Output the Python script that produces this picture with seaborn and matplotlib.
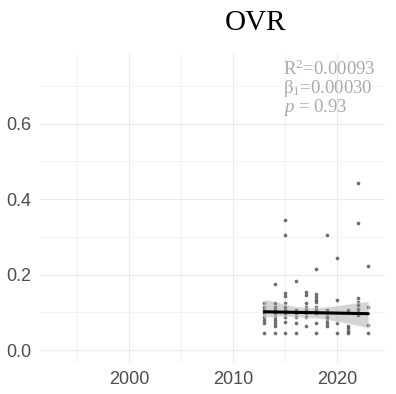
import matplotlib
matplotlib.use("Agg")
import matplotlib.pyplot as plt
import seaborn as sns
import pandas as pd
from matplotlib.ticker import FixedLocator

vals_2013 = [0.124, 0.115, 0.106, 0.097, 0.088, 0.079, 0.071, 0.046]
vals_2014 = [0.174, 0.124, 0.115, 0.106, 0.097, 0.088, 0.079, 0.071, 0.064, 0.046]
vals_2015 = [0.344, 0.304, 0.152, 0.143, 0.124, 0.115, 0.106, 0.097, 0.088, 0.075, 0.046]
vals_2016 = [0.184, 0.106, 0.097, 0.088, 0.072, 0.046]
vals_2017 = [0.154, 0.146, 0.124, 0.115, 0.106, 0.097, 0.088, 0.065]
vals_2018 = [0.214, 0.148, 0.141, 0.134, 0.128, 0.115, 0.106, 0.097, 0.073, 0.046]
vals_2019 = [0.304, 0.106, 0.097, 0.088, 0.079, 0.071, 0.065]
vals_2020 = [0.244, 0.134, 0.073, 0.046]
vals_2021 = [0.106, 0.065, 0.058, 0.051, 0.044]
vals_2022 = [0.444, 0.336, 0.137, 0.128, 0.119, 0.110, 0.102, 0.093]
vals_2023 = [0.223, 0.115, 0.067, 0.046]

years = list(range(2013, 2024))
value_lists = [vals_2013, vals_2014, vals_2015, vals_2016, vals_2017, vals_2018,
               vals_2019, vals_2020, vals_2021, vals_2022, vals_2023]

title = "OVR"
stats_lines = [r"R$^2$=0.00093", r"β$_1$=0.00030", r"$p$ = 0.93"]
x_ticks = [2000, 2010, 2020]
x_minor = [1995, 2005, 2015]
y_ticks = [0.0, 0.2, 0.4, 0.6]
y_minor = [0.1, 0.3, 0.5, 0.7]

rows = []
for yr, vals in zip(years, value_lists):
    for v in vals:
        rows.append({"year": yr, "value": v})
df = pd.DataFrame(rows)
# the trend is fitted on one summary value per year
yearly = df.groupby("year", as_index=False)["value"].median()

sns.set_theme(style="white")
plt.rcParams["mathtext.fontset"] = "custom"
plt.rcParams["mathtext.rm"] = "Liberation Serif"
plt.rcParams["mathtext.it"] = "Liberation Serif:italic"

fig = plt.figure(figsize=(3.96, 3.94), dpi=100)
ax = fig.add_axes([0.101, 0.079, 0.871, 0.786])

sns.scatterplot(data=df, x="year", y="value", ax=ax, s=7, color="#555555",
                linewidth=0, alpha=0.85, zorder=2)
sns.regplot(data=yearly, x="year", y="value", ax=ax, scatter=False, ci=99, seed=1,
            line_kws=dict(color="black", lw=2.2, zorder=4))
for coll in ax.collections[1:]:
    coll.set_facecolor("#999999")
    coll.set_alpha(0.42)
    coll.set_zorder(3)

ax.set_xlim(1991.4, 2024.6)
ax.set_ylim(-0.034, 0.787)
ax.xaxis.set_major_locator(FixedLocator(x_ticks))
ax.xaxis.set_minor_locator(FixedLocator(x_minor))
ax.yaxis.set_major_locator(FixedLocator(y_ticks))
ax.yaxis.set_minor_locator(FixedLocator(y_minor))
ax.set_xticklabels([str(t) for t in x_ticks])
ax.set_yticklabels([f"{t:.1f}" for t in y_ticks])
ax.grid(True, which="major", color="#ebebeb", lw=0.8)
ax.grid(True, which="minor", color="#f3f3f3", lw=0.6)
ax.set_axisbelow(True)
for s in ax.spines.values():
    s.set_visible(False)
ax.tick_params(axis="both", which="both", length=0, labelsize=13, colors="#4d4d4d", pad=6)
for lab in ax.get_xticklabels() + ax.get_yticklabels():
    lab.set_family("Liberation Sans")
ax.set_xlabel("")
ax.set_ylabel("")

fig.text(255 / 396, 1 - 22.5 / 394, title, ha="center", va="center", fontsize=21,
         family="Liberation Serif", color="black")

for i, line in enumerate(stats_lines):
    fig.text(283 / 396, 1 - (69 + 19.5 * i) / 394, line, ha="left", va="center",
             fontsize=13.5, family="Liberation Serif", color="#aaaaaa")

fig.savefig("out.png", dpi=100)
